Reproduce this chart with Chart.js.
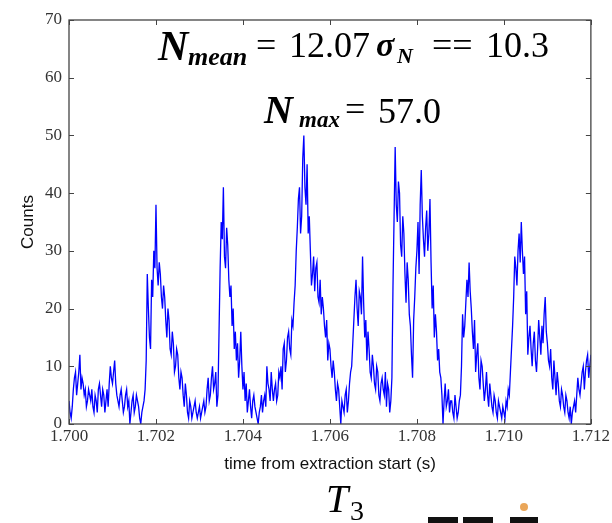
<!DOCTYPE html>
<html>
<head>
<meta charset="utf-8">
<script src="https://cdn.jsdelivr.net/npm/chart.js@4/dist/chart.umd.min.js"></script>
<style>
  html, body { margin: 0; padding: 0; background: #fff; }
  #wrap { width: 612px; height: 523px; }
</style>
</head>
<body>
<div id="wrap"><canvas id="c" width="612" height="523"></canvas></div>
<script>
// time bins start at 1.700 s, 25 us wide
const t0 = 1.700;
const dt = 0.000025;
const counts = [
  4, 2, 1, 3, 6, 8, 9, 5, 7, 9, 12, 6, 8, 7, 5, 6, 3, 4, 6, 5,
  4, 6, 3, 2, 5, 4, 2, 6, 7, 5, 3, 6, 5, 2, 4, 6, 3, 7, 10, 8,
  7, 9, 11, 7, 5, 4, 3, 5, 6, 4, 2, 3, 5, 6, 3, 4, 0, 2, 4, 5,
  2, 3, 5, 4, 3, 1, 0, 2, 3, 4, 6, 11, 26, 20, 15, 13, 25, 22, 30, 27,
  38, 27, 24, 28, 26, 22, 20, 24, 22, 18, 15, 20, 18, 13, 12, 16, 14, 9, 10, 13,
  12, 8, 6, 9, 8, 5, 3, 7, 5, 2, 1, 4, 3, 1, 2, 3, 4, 2, 1, 2,
  3, 1, 2, 3, 4, 2, 3, 6, 8, 4, 5, 8, 10, 6, 7, 9, 3, 5, 16, 27,
  35, 32, 41, 29, 27, 34, 31, 25, 22, 24, 17, 20, 13, 16, 11, 14, 8, 11, 16, 10,
  6, 9, 4, 7, 2, 4, 6, 3, 1, 4, 5, 3, 2, 1, 0, 2, 3, 5, 2, 4,
  5, 3, 10, 7, 6, 4, 9, 6, 4, 6, 7, 4, 5, 9, 8, 10, 6, 13, 14, 9,
  11, 15, 16, 13, 12, 18, 17, 21, 24, 30, 34, 39, 41, 33, 36, 46, 50, 41, 38, 45,
  33, 36, 30, 24, 26, 29, 23, 27, 28, 22, 21, 25, 19, 22, 20, 17, 15, 18, 11, 14,
  13, 10, 8, 11, 9, 6, 4, 7, 6, 3, 0, 4, 3, 2, 5, 6, 2, 4, 7, 9,
  10, 14, 18, 22, 25, 20, 17, 23, 22, 19, 29, 21, 15, 18, 11, 16, 13, 9, 8, 12,
  10, 7, 6, 10, 9, 5, 4, 7, 8, 6, 5, 9, 3, 7, 6, 2, 4, 8, 24, 36,
  48, 38, 35, 42, 40, 31, 29, 36, 33, 26, 21, 28, 25, 19, 17, 12, 8, 18, 22, 27,
  30, 35, 26, 38, 44, 36, 32, 29, 34, 37, 30, 33, 39, 28, 20, 24, 15, 19, 16, 11,
  13, 9, 8, 5, 0, 4, 7, 3, 4, 6, 2, 4, 4, 2, 1, 5, 3, 1, 2, 4,
  5, 10, 19, 15, 17, 21, 25, 22, 28, 23, 20, 16, 13, 18, 9, 12, 14, 8, 6, 11,
  10, 7, 4, 6, 9, 5, 3, 7, 5, 3, 2, 5, 4, 2, 1, 4, 3, 2, 1, 3,
  2, 1, 4, 3, 6, 5, 9, 13, 17, 22, 29, 27, 24, 30, 33, 28, 35, 30, 26, 29,
  19, 23, 12, 15, 17, 13, 10, 14, 16, 11, 9, 13, 18, 15, 12, 17, 14, 19, 22, 16,
  14, 11, 10, 13, 8, 6, 11, 8, 5, 9, 7, 4, 3, 6, 5, 3, 2, 5, 4, 2,
  1, 3, 0, 2, 3, 4, 2, 5, 8, 6, 5, 7, 9, 10, 6, 9, 11, 12, 8, 10,
  12
];
const xTicks = [1.700, 1.702, 1.704, 1.706, 1.708, 1.710, 1.712];
const yTicks = [0, 10, 20, 30, 40, 50, 60, 70];

const points = counts.map((v, i) => ({ x: t0 + i * dt, y: v }));

const serif = "'Liberation Serif', 'Times New Roman', serif";
const sans = "'Liberation Sans', Arial, sans-serif";

// frame, inward ticks on all sides, axis titles and the annotations
const decor = {
  id: "decor",
  afterDraw(chart) {
    const ctx = chart.ctx;
    const a = chart.chartArea;
    const xs = chart.scales.x, ys = chart.scales.y;
    ctx.save();
    ctx.strokeStyle = "#444";
    ctx.lineWidth = 1.3;
    ctx.strokeRect(a.left, a.top, a.right - a.left, a.bottom - a.top);
    ctx.lineWidth = 1;
    ctx.beginPath();
    xTicks.forEach((v) => {
      const px = Math.round(xs.getPixelForValue(v)) + 0.5;
      ctx.moveTo(px, a.bottom); ctx.lineTo(px, a.bottom - 5);
      ctx.moveTo(px, a.top); ctx.lineTo(px, a.top + 5);
    });
    yTicks.forEach((v) => {
      const py = Math.round(ys.getPixelForValue(v)) + 0.5;
      ctx.moveTo(a.left, py); ctx.lineTo(a.left + 5, py);
      ctx.moveTo(a.right, py); ctx.lineTo(a.right - 5, py);
    });
    ctx.stroke();

    // axis titles
    ctx.fillStyle = "#111";
    ctx.font = "17px " + sans;
    ctx.textAlign = "center";
    ctx.textBaseline = "middle";
    ctx.fillText("time from extraction start (s)", 330, 464);
    ctx.save();
    ctx.translate(28, 222);
    ctx.rotate(-Math.PI / 2);
    ctx.fillText("Counts", 0, 0);
    ctx.restore();

    // annotations
    ctx.fillStyle = "#000";
    ctx.textAlign = "left";
    ctx.textBaseline = "alphabetic";
    const put = (txt, font, x, y) => { ctx.font = font; ctx.fillText(txt, x, y); };
    put("N", "bold italic 42px " + serif, 158, 60);
    put("mean", "bold italic 26px " + serif, 188, 65);
    put("=", "36px " + serif, 256, 57);
    put("12.07", "36px " + serif, 289, 57);
    put("\u03C3", "bold italic 34px " + serif, 376, 56);
    put("N", "bold italic 22px " + serif, 397, 63);
    put("==", "36px " + serif, 432, 57);
    put("10.3", "36px " + serif, 486, 57);

    put("N", "bold italic 40px " + serif, 264, 123);
    put("max", "bold italic 23px " + serif, 299, 127);
    put("=", "36px " + serif, 345, 121);
    put("57.0", "36px " + serif, 378, 123);

    put("T", "italic 40px " + serif, 326, 512);
    put("3", "28px " + serif, 350, 520);

    // clipped logo at the bottom edge
    ctx.fillStyle = "#111";
    ctx.fillRect(428, 517, 30, 6);
    ctx.fillRect(463, 517, 30, 6);
    ctx.fillRect(510, 517, 28, 6);
    ctx.fillStyle = "rgba(230,150,60,0.85)";
    ctx.beginPath();
    ctx.arc(524, 507, 4, 0, Math.PI * 2);
    ctx.fill();
    ctx.restore();
  },
};

function initChart(id) {
  new Chart(id, {
    type: "line",
    plugins: [decor],
    data: {
      datasets: [
        {
          data: points,
          borderColor: "#0000ff",
          borderWidth: 1.3,
          pointRadius: 0,
          tension: 0,
          fill: false,
        },
      ],
    },
    options: {
      responsive: false,
      animation: false,
      devicePixelRatio: 1,
      layout: { padding: { left: 0, top: 20, right: 20, bottom: 0 } },
      plugins: {
        legend: { display: false },
        tooltip: { enabled: false },
      },
      scales: {
        x: {
          type: "linear",
          min: 1.700,
          max: 1.712,
          afterFit: (s) => { s.height = 99; },
          afterBuildTicks: (s) => { s.ticks = xTicks.map((v) => ({ value: v })); },
          grid: { display: false, drawTicks: false },
          border: { display: false },
          ticks: {
            autoSkip: false,
            maxRotation: 0,
            padding: 2,
            color: "#333",
            font: { family: serif, size: 17 },
            callback: (v) => v.toFixed(3),
          },
        },
        y: {
          min: 0,
          max: 70,
          afterFit: (s) => { s.width = 69; },
          afterBuildTicks: (s) => { s.ticks = yTicks.map((v) => ({ value: v })); },
          grid: { display: false, drawTicks: false },
          border: { display: false },
          ticks: {
            padding: 7,
            color: "#333",
            font: { family: serif, size: 17 },
          },
        },
      },
    },
  });
}

initChart("c");
</script>
</body>
</html>
